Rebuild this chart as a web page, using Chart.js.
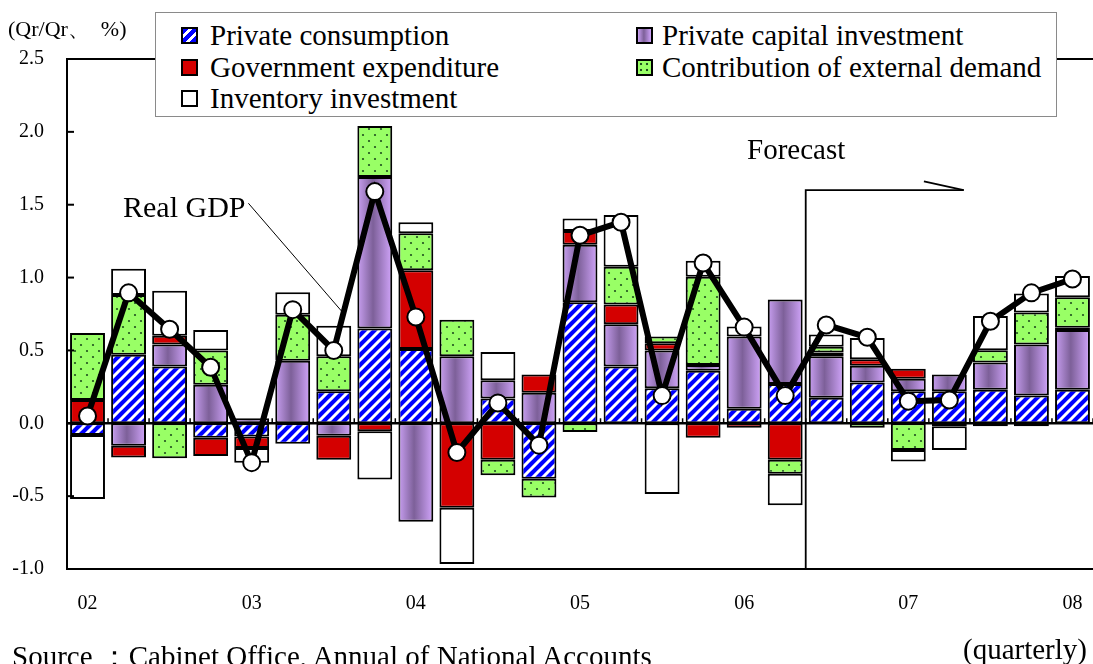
<!DOCTYPE html>
<html lang="en">
<head>
<meta charset="UTF-8">
<title>Real GDP growth contributions</title>
<script src="https://cdn.jsdelivr.net/npm/chart.js@4.4.0/dist/chart.umd.min.js"></script>
<style>
*{box-sizing:border-box;margin:0;padding:0}
html,body{width:1093px;height:664px;overflow:hidden;background:#fff}
body{position:relative;font-family:"Liberation Serif","DejaVu Serif",serif;color:#000}
#c{position:absolute;left:0;top:0}
.t{position:absolute;white-space:pre;line-height:1}
.legend{position:absolute;left:155px;top:12px;width:902px;height:105px;border:1.5px solid #8a8a8a;background:#fff}
.item{position:absolute;font-size:29px;line-height:1;white-space:nowrap}
.sw{position:absolute;width:17px;height:17px;border:2px solid #000}
.sw.blue{background:repeating-linear-gradient(135deg,#0000ff 0 4px,#fff 4px 7px)}
.sw.purple{background:linear-gradient(90deg,#c9a0f2,#7d6099 45%,#cfa3fa)}
.sw.red{background:#d40000}
.sw.green{background:radial-gradient(circle,#1f4f1f 1px,transparent 1.6px) 0 0/6px 6px,#99ff66}
.sw.white{background:#fff}
</style>
</head>
<body>
<canvas id="c" width="1093" height="664"></canvas>

<div class="t" style="left:8px;top:18px;font-size:22px">(Qr/Qr、  %)</div>

<div class="legend">
  <div class="sw blue" style="left:25px;top:14px"></div><div class="item" style="left:54px;top:8px">Private consumption</div>
  <div class="sw purple" style="left:480px;top:14px"></div><div class="item" style="left:506px;top:8px">Private capital investment</div>
  <div class="sw red" style="left:25px;top:46px"></div><div class="item" style="left:54px;top:40px">Government expenditure</div>
  <div class="sw green" style="left:480px;top:46px"></div><div class="item" style="left:506px;top:40px">Contribution of external demand</div>
  <div class="sw white" style="left:25px;top:77px"></div><div class="item" style="left:54px;top:71px">Inventory investment</div>
</div>

<div class="t" style="left:747px;top:135px;font-size:29px">Forecast</div>
<div class="t" style="left:123px;top:192px;font-size:30px">Real GDP</div>
<div class="t" style="left:12px;top:642px;font-size:29px">Source ：Cabinet Office, Annual of National Accounts</div>
<div class="t" style="left:963px;top:635px;font-size:29px">(quarterly)</div>

<script>
// 2002Q1 .. 2008Q1, label only on Q1
const quarters = ["02","","","","03","","","","04","","","","05","","","","06","","","","07","","","","08"];

const privCons = [-0.08, 0.47, 0.39, -0.10, -0.09, -0.14, 0.22, 0.65, 0.51, null, 0.17, -0.38, 0.83,
                  0.39, 0.24, 0.36, 0.10, 0.27, 0.175, 0.28, 0.22, 0.22, 0.23, 0.19, 0.23];
const privInv = [null, -0.155, 0.15, 0.265, 0.035, 0.43, -0.085, 1.04, -0.675, 0.46, 0.125, 0.21, 0.395,
                 0.29, 0.26, 0.04, 0.495, 0.58, 0.285, 0.115, 0.085, 0.115, 0.187, 0.35, 0.41];
const govExp = [0.16, -0.08, 0.06, -0.125, -0.08, null, -0.165, -0.055, 0.54, -0.58, -0.25, 0.125, 0.095,
                0.135, 0.05, -0.10, -0.03, -0.25, 0.025, 0.045, 0.07, -0.02, -0.02, -0.02, 0.015];
const extDemand = [0.46, 0.41, -0.24, 0.235, null, 0.315, 0.24, 0.35, 0.255, 0.25, -0.107, -0.13, -0.06,
                   0.26, 0.045, 0.605, null, -0.097, 0.04, -0.03, -0.183, null, 0.085, 0.22, 0.21];
const inventory = [-0.44, 0.18, 0.31, 0.14, -0.10, 0.155, 0.21, -0.33, 0.075, -0.385, 0.195, null, 0.085,
                   0.355, -0.485, 0.11, 0.07, -0.215, 0.085, 0.145, -0.08, -0.163, 0.235, 0.13, 0.145];
const realGdp = [0.05, 0.895, 0.645, 0.385, -0.27, 0.78, 0.50, 1.59, 0.73, -0.20, 0.14, -0.15, 1.29,
                 1.38, 0.19, 1.10, 0.66, 0.19, 0.675, 0.59, 0.152, 0.16, 0.70, 0.895, 0.99];

const BAR_PCT = 0.85;

function stripes() {
  const c = document.createElement("canvas"); c.width = c.height = 10;
  const g = c.getContext("2d");
  g.fillStyle = "#0000ff"; g.fillRect(0, 0, 10, 10);
  g.strokeStyle = "#fff"; g.lineWidth = 3;
  g.beginPath();
  g.moveTo(-5, 5); g.lineTo(5, -5);
  g.moveTo(0, 10); g.lineTo(10, 0);
  g.moveTo(5, 15); g.lineTo(15, 5);
  g.stroke();
  return g.createPattern(c, "repeat");
}
function dots() {
  const c = document.createElement("canvas"); c.width = 12; c.height = 12;
  const g = c.getContext("2d");
  g.fillStyle = "#99ff66"; g.fillRect(0, 0, 12, 12);
  g.fillStyle = "#1f4f1f";
  [[3, 3], [9, 9]].forEach(([x, y]) => { g.beginPath(); g.arc(x, y, 1.1, 0, Math.PI * 2); g.fill(); });
  return g.createPattern(c, "repeat");
}
// purple bars: shaded like a cylinder, gradient across each bar
function purple(ctx) {
  const ch = ctx.chart, xs = ch.scales.x;
  const fallback = "#a27fc8";
  if (!xs || ctx.dataIndex === undefined) return fallback;
  const cx = xs.getPixelForValue(ctx.dataIndex);
  const half = xs.width / quarters.length * BAR_PCT / 2;
  if (!isFinite(cx) || !isFinite(half) || half <= 0) return fallback;
  const g = ch.ctx.createLinearGradient(cx - half, 0, cx + half, 0);
  g.addColorStop(0, "#c9a0f2");
  g.addColorStop(0.45, "#7d6099");
  g.addColorStop(1, "#d1a5fb");
  return g;
}

const bar = { borderColor: "#000", borderWidth: 2, borderSkipped: false, barPercentage: BAR_PCT, categoryPercentage: 1, order: 1 };

const decor = {
  id: "decor",
  beforeDatasetsDraw(chart) {
    const { ctx, chartArea: a, scales: { x, y } } = chart;
    const y0 = y.getPixelForValue(0);
    ctx.save();
    ctx.strokeStyle = "#000";
    ctx.lineWidth = 2.5;
    ctx.beginPath(); ctx.moveTo(a.left, y0); ctx.lineTo(a.right, y0); ctx.stroke();
    ctx.lineWidth = 1.5;
    for (let i = 0; i <= quarters.length; i++) {
      const px = x.getPixelForValue(i - 0.5);
      ctx.beginPath(); ctx.moveTo(px, y0); ctx.lineTo(px, y0 - 5); ctx.stroke();
    }
    // forecast marker
    const fx = x.getPixelForValue(17.5), fy = y.getPixelForValue(1.6), ex = x.getPixelForValue(21.35);
    ctx.lineWidth = 1.8;
    ctx.beginPath(); ctx.moveTo(fx, a.bottom); ctx.lineTo(fx, fy); ctx.lineTo(ex, fy); ctx.stroke();
    ctx.beginPath(); ctx.moveTo(x.getPixelForValue(20.38), y.getPixelForValue(1.66)); ctx.lineTo(ex, fy); ctx.stroke();
    // Real GDP leader
    ctx.lineWidth = 1;
    ctx.beginPath(); ctx.moveTo(x.getPixelForValue(3.92), y.getPixelForValue(1.51)); ctx.lineTo(x.getPixelForValue(6.22), y.getPixelForValue(0.76)); ctx.stroke();
    ctx.restore();
  },
  afterDraw(chart) {
    const { ctx, chartArea: a, scales: { y } } = chart;
    ctx.save();
    ctx.strokeStyle = "#000";
    ctx.lineWidth = 2;
    ctx.beginPath();
    ctx.moveTo(a.right, a.top); ctx.lineTo(a.left, a.top); ctx.lineTo(a.left, a.bottom); ctx.lineTo(a.right, a.bottom);
    ctx.stroke();
    y.ticks.forEach(t => {
      const py = y.getPixelForValue(t.value);
      ctx.beginPath(); ctx.moveTo(a.left, py); ctx.lineTo(a.left + 7, py); ctx.stroke();
    });
    ctx.restore();
  }
};

const tickFont = { family: "Liberation Serif", size: 20 };

new Chart(document.getElementById("c"), {
  type: "bar",
  data: {
    labels: quarters,
    datasets: [
      { ...bar, label: "Private consumption", data: privCons, backgroundColor: stripes() },
      { ...bar, label: "Private capital investment", data: privInv, backgroundColor: purple },
      { ...bar, label: "Government expenditure", data: govExp, backgroundColor: "#d40000" },
      { ...bar, label: "Contribution of external demand", data: extDemand, backgroundColor: dots() },
      { ...bar, label: "Inventory investment", data: inventory, backgroundColor: "#fff" },
      { type: "line", label: "Real GDP", data: realGdp, stack: "gdp", order: 0,
        borderColor: "#000", borderWidth: 6, tension: 0,
        pointRadius: 8.5, pointBackgroundColor: "#fff", pointBorderColor: "#000", pointBorderWidth: 2 }
    ]
  },
  options: {
    responsive: false, animation: false,
    layout: { autoPadding: false, padding: { top: 59, right: 0, bottom: 0, left: 0 } },
    plugins: { legend: { display: false }, tooltip: { enabled: false } },
    scales: {
      x: {
        stacked: true,
        grid: { display: false, drawTicks: false }, border: { display: false },
        ticks: { autoSkip: false, maxRotation: 0, padding: 23, color: "#000", font: tickFont },
        afterFit: s => { s.height = 95; s.paddingLeft = 0; s.paddingRight = 0; }
      },
      y: {
        stacked: true, min: -1, max: 2.5,
        grid: { display: false, drawTicks: false }, border: { display: false },
        ticks: { stepSize: 0.5, padding: 23, color: "#000", font: tickFont, callback: v => v.toFixed(1) },
        afterFit: s => { s.width = 67; s.paddingTop = 0; s.paddingBottom = 0; }
      }
    }
  },
  plugins: [decor]
});
</script>
</body>
</html>
